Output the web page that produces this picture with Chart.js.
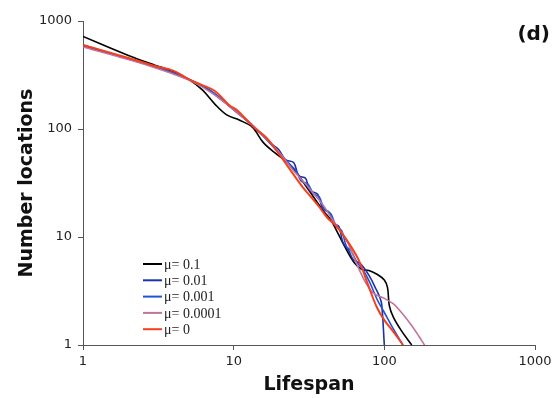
<!DOCTYPE html>
<html>
<head>
<meta charset="utf-8">
<script src="https://cdn.jsdelivr.net/npm/chart.js@4/dist/chart.umd.min.js"></script>
<style>
  html, body { margin: 0; padding: 0; background: #fff; }
  canvas { display: block; }
</style>
</head>
<body>
<canvas id="chart" width="557" height="398"></canvas>
<script>
const seriesLabels = ["\u03bc= 0.1", "\u03bc= 0.01", "\u03bc= 0.001", "\u03bc= 0.0001", "\u03bc= 0"];
const seriesColors = ["#000000", "#1c32a6", "#2252d6", "#c0749e", "#f5401c"];

const blackX = [1, 2, 3, 4, 5, 6.2, 7.5, 9, 10.9, 13.3, 15.6, 18, 22.5, 26, 30, 35, 40, 44, 48, 55, 63, 71, 79, 90, 100, 105, 108, 115, 130, 152];
const blackY = [720, 480, 390, 340, 290, 230, 170, 135, 121, 104, 76, 63, 49.5, 40, 30, 22, 17, 14.5, 11.6, 8, 5.8, 5, 4.9, 4.5, 4.0, 3.4, 2.3, 1.8, 1.35, 1];

const blue1X = [1, 2, 3, 5, 7, 10, 12, 15, 18, 20, 22, 25, 27, 30, 32, 36, 39, 43, 46, 50, 53, 58, 62, 70, 80, 88, 93, 96, 100];
const blue1Y = [590, 445, 375, 290, 225, 150, 122, 92, 72, 64, 52, 49, 37, 35, 27, 25, 18.5, 17, 13.5, 12.5, 9, 7.5, 6.2, 5.6, 4.3, 3.3, 2.8, 2.4, 1];

const blue2X = [1, 2, 3, 5, 7, 10, 12, 15, 20, 24, 26, 28, 31, 34, 37, 40, 44, 48, 52, 56, 60, 66, 72, 80, 90, 100, 115, 133];
const blue2Y = [600, 450, 378, 288, 228, 152, 124, 92, 60, 46, 41, 33, 31, 25, 23.5, 18, 16.5, 12.5, 11.5, 8.2, 7.5, 5.8, 5.0, 3.8, 2.6, 2.0, 1.4, 1];

const pinkX = [1, 2, 3, 5, 7, 9.5, 11, 13, 16, 20, 25, 30, 35, 40, 46, 52, 58, 65, 75, 85, 100, 115, 130, 150, 170, 185];
const pinkY = [575, 440, 370, 285, 220, 160, 135, 112, 85, 61, 41, 31, 24, 19, 14, 11, 8.5, 5.8, 3.8, 3.0, 2.7, 2.4, 2.0, 1.55, 1.2, 1];

const redX = [1, 2, 3, 4, 5, 6.2, 7.5, 8.5, 9.4, 10.5, 12.2, 14, 16.5, 20.2, 24.6, 28.7, 33, 37, 42, 47, 52, 59, 68, 78, 89, 100, 116, 133];
const redY = [600, 455, 383, 345, 290, 255, 225, 190, 165, 150, 121, 100, 83, 57.5, 39, 29, 23, 19, 15, 13, 11, 8.5, 6, 3.6, 2.25, 1.7, 1.3, 1];

const xTicks = [1, 10, 100, 1000];
const yTicks = [1, 10, 100, 1000];

const seriesX = [blackX, blue1X, blue2X, pinkX, redX];
const seriesY = [blackY, blue1Y, blue2Y, pinkY, redY];
const drawOrder = [4, 3, 2, 1, 0];


function toPoints(xs, ys) {
    return xs.map((x, i) => ({x: x, y: ys[i]}));
}


const datasets = seriesLabels.map((label, i) => ({
    label: label,
    data: toPoints(seriesX[i], seriesY[i]),
    borderColor: seriesColors[i],
    backgroundColor: seriesColors[i],
    borderWidth: i === 4 ? 2 : 1.6,
    pointRadius: 0,
    tension: 0.35,
    fill: false,
    order: drawOrder[i]
}));


const extras = {
    id: 'extras',
    afterDraw(chart) {
        const ctx = chart.ctx;
        ctx.save();

        ctx.fillStyle = '#111';
        ctx.font = 'bold 20px "DejaVu Sans"';
        ctx.textAlign = 'right';
        ctx.textBaseline = 'middle';
        ctx.fillText('(d)', 550, 35);

        // legend, bottom left inside the plot
        ctx.font = '14px "Liberation Serif"';
        ctx.textAlign = 'left';
        chart.data.datasets.forEach((ds, i) => {
            const y = 264 + i * 16.3;
            ctx.strokeStyle = ds.borderColor;
            ctx.lineWidth = 2;
            ctx.beginPath();
            ctx.moveTo(143, y);
            ctx.lineTo(162, y);
            ctx.stroke();
            ctx.fillStyle = '#222';
            ctx.fillText(ds.label, 164, y + 1);
        });

        ctx.restore();
    }
};


function axisOptions(tickValues, titleText, isX) {
    return {
        type: 'logarithmic',
        min: 1,
        max: 1000,
        afterBuildTicks: scale => {
            scale.ticks = tickValues.map(v => ({value: v}));
        },
        ticks: {
            callback: v => String(v),
            font: {family: 'DejaVu Sans', size: 13},
            color: '#222',
            padding: isX ? 4 : 6,
            maxRotation: 0,
            autoSkip: false
        },
        grid: {drawOnChartArea: false, tickLength: 5, color: '#555'},
        border: {color: '#555', width: 1},
        title: {
            display: true,
            text: titleText,
            font: {family: 'DejaVu Sans', size: 19, weight: 'bold'},
            color: '#111',
            padding: isX ? {top: 0, bottom: 2} : {top: 16, bottom: 0}
        },
        afterFit: scale => {
            if (isX) {
                scale.height = 53;
            } else {
                scale.width = 83;
            }
        }
    };
}


new Chart(document.getElementById('chart'), {
    type: 'line',
    data: {datasets: datasets},
    options: {
        responsive: false,
        devicePixelRatio: 1,
        animation: false,
        parsing: true,
        layout: {padding: {top: 21, right: 22, left: 0, bottom: 0}},
        scales: {
            x: axisOptions(xTicks, 'Lifespan', true),
            y: axisOptions(yTicks, 'Number locations', false)
        },
        plugins: {
            legend: {display: false},
            tooltip: {enabled: false}
        }
    },
    plugins: [extras]
});
</script>
</body>
</html>
